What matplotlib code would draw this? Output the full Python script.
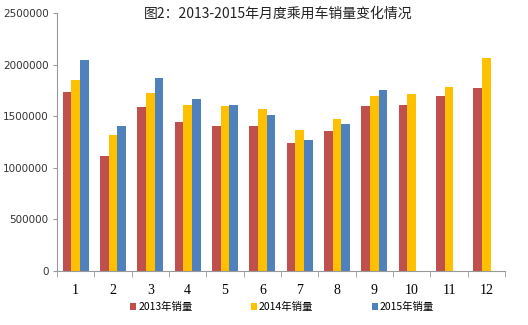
import matplotlib
matplotlib.use("Agg")
import matplotlib.pyplot as plt
import numpy as np
from matplotlib.patches import Patch

months = ["1", "2", "3", "4", "5", "6", "7", "8", "9", "10", "11", "12"]
sales_2013 = [1730000, 1114000, 1585000, 1443000, 1401000, 1407000, 1240000, 1356000, 1601000, 1610000, 1697000, 1775000]
sales_2014 = [1855000, 1317000, 1720000, 1613000, 1597000, 1572000, 1365000, 1475000, 1700000, 1713000, 1785000, 2068000]
sales_2015 = [2045000, 1401000, 1874000, 1671000, 1610000, 1510000, 1269000, 1420000, 1755000, np.nan, np.nan, np.nan]
series_labels = ["2013年销量", "2014年销量", "2015年销量"]
yticks = [0, 500000, 1000000, 1500000, 2000000, 2500000]
title = "图2：2013-2015年月度乘用车销量变化情况"

colors = ["#C0504D", "#FFC000", "#4F81BD"]
cjk = ["Noto Sans CJK SC", "DejaVu Sans"]

fig = plt.figure(figsize=(5.28, 3.25), dpi=100)
ax = fig.add_axes([57/528, 1-271/325, 448/528, 258/325])

x = np.arange(len(months))
w = 0.233
for i, (vals, c) in enumerate(zip([sales_2013, sales_2014, sales_2015], colors)):
    ax.bar(x + (i - 1) * w, vals, width=w, color=c, linewidth=0)

ax.set_xlim(-0.5, len(months) - 0.5)
ax.set_ylim(0, 2500000)
ax.set_yticks(yticks)
ax.set_yticklabels([str(v) for v in yticks], fontsize=7.5, color="#333333", family="DejaVu Sans")
ax.set_xticks(x)
ax.set_xticklabels(months, fontsize=10, family="Liberation Serif")
ax.tick_params(axis="x", which="major", length=0, pad=9)
ax.set_xticks(np.arange(-0.5, len(months)), minor=True)
ax.tick_params(axis="x", which="minor", length=4, color="#999999")
ax.tick_params(axis="y", length=3, color="#999999", pad=3)

for s in ["top", "right"]:
    ax.spines[s].set_visible(False)
ax.spines["left"].set_color("#999999")
ax.spines["bottom"].set_color("#999999")

fig.text(278/528, 1-14/325, title, ha="center", va="center", fontsize=10, family=cjk, color="#222222")

handles = [Patch(facecolor=c, edgecolor="none") for c in colors]
fig.legend(handles, series_labels, loc="center", bbox_to_anchor=(282/528, 1-307/325), ncol=3,
           frameon=False, prop={"family": cjk, "size": 7.5}, handlelength=0.6, handleheight=0.6,
           handletextpad=0.2, columnspacing=5.6)

fig.savefig("out.png", dpi=100)
